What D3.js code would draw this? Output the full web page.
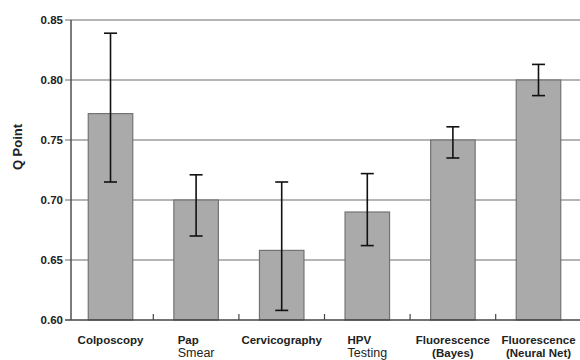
<!DOCTYPE html>
<html>
<head>
<meta charset="utf-8">
<script src="https://cdn.jsdelivr.net/npm/d3@7"></script>
<style>
  html, body { margin: 0; padding: 0; background: #fff; }
  svg { display: block; font-family: "Liberation Sans", Arial, Helvetica, sans-serif; }
</style>
</head>
<body>
<svg id="chart" width="580" height="360"></svg>
<script>
// Diagnostic methods compared by Q point, with error bar limits
const categories = ["Colposcopy", "Pap Smear", "Cervicography", "HPV Testing", "Fluorescence (Bayes)", "Fluorescence (Neural Net)"];
const labelLines = [["Colposcopy"], ["Pap", "Smear"], ["Cervicography"], ["HPV", "Testing"], ["Fluorescence", "(Bayes)"], ["Fluorescence", "(Neural Net)"]];
const qPoint = [0.772, 0.700, 0.658, 0.690, 0.750, 0.800];
const errLow = [0.715, 0.670, 0.608, 0.662, 0.735, 0.787];
const errHigh = [0.839, 0.721, 0.715, 0.722, 0.761, 0.813];
const yTicks = [0.60, 0.65, 0.70, 0.75, 0.80, 0.85];
const yTitle = "Q Point";

// two-line labels set flush left, with a lighter second line
const leftAligned = new Set(["Pap Smear", "HPV Testing"]);

const svg = d3.select("#chart");
const plotLeft = 71, plotRight = 580, plotTop = 20, plotBottom = 320;

const x = d3.scaleBand().domain(categories).range([66, 583]).paddingInner(0.48).paddingOuter(0.26);
const y = d3.scaleLinear().domain([0.60, 0.85]).range([plotBottom, plotTop]);

// horizontal gridlines, extending slightly left of the axis as tick marks
svg.append("g").selectAll("line").data(yTicks.slice(1)).join("line")
  .attr("x1", plotLeft - 6).attr("x2", plotRight)
  .attr("y1", d => y(d)).attr("y2", d => y(d))
  .attr("stroke", "#9c9c9c").attr("stroke-width", 1.3);

// bars
svg.append("g").selectAll("rect").data(categories).join("rect")
  .attr("x", d => x(d)).attr("width", x.bandwidth())
  .attr("y", (d, i) => y(qPoint[i]))
  .attr("height", (d, i) => y(0.60) - y(qPoint[i]))
  .attr("fill", "#aaaaaa").attr("stroke", "#737373").attr("stroke-width", 1.2);

// axis lines
svg.append("line").attr("x1", plotLeft).attr("x2", plotLeft).attr("y1", plotTop).attr("y2", plotBottom)
  .attr("stroke", "#444").attr("stroke-width", 1.4);
svg.append("line").attr("x1", plotLeft - 6).attr("x2", plotRight).attr("y1", plotBottom).attr("y2", plotBottom)
  .attr("stroke", "#444").attr("stroke-width", 1.6);

// small upward ticks between categories
const step = x.step();
const boundaries = categories.slice(1).map(d => x(d) - (step - x.bandwidth()) / 2);
svg.append("g").selectAll("line").data(boundaries).join("line")
  .attr("x1", d => d).attr("x2", d => d)
  .attr("y1", plotBottom).attr("y2", plotBottom - 6)
  .attr("stroke", "#444").attr("stroke-width", 1.2);

// error bars
const cap = 6.5;
const eb = svg.append("g").attr("stroke", "#111").attr("stroke-width", 1.6);
categories.forEach((c, i) => {
  const cx = x(c) + x.bandwidth() / 2;
  eb.append("line").attr("x1", cx).attr("x2", cx).attr("y1", y(errHigh[i])).attr("y2", y(errLow[i]));
  eb.append("line").attr("x1", cx - cap).attr("x2", cx + cap).attr("y1", y(errHigh[i])).attr("y2", y(errHigh[i]));
  eb.append("line").attr("x1", cx - cap).attr("x2", cx + cap).attr("y1", y(errLow[i])).attr("y2", y(errLow[i]));
});

// y tick labels
svg.append("g").selectAll("text").data(yTicks).join("text")
  .attr("x", 63).attr("y", d => y(d)).attr("dy", "0.35em")
  .attr("text-anchor", "end")
  .attr("font-size", 11.5).attr("font-weight", "bold").attr("fill", "#222")
  .text(d => d.toFixed(2));

// y axis title
svg.append("text")
  .attr("transform", "translate(22,147) rotate(-90)")
  .attr("text-anchor", "middle")
  .attr("font-size", 13).attr("font-weight", "bold").attr("fill", "#222")
  .text(yTitle);

// category labels
categories.forEach((c, i) => {
  const cx = x(c) + x.bandwidth() / 2;
  const lines = labelLines[i];
  const flush = leftAligned.has(c);
  const t = svg.append("text").attr("fill", "#222");
  const spans = lines.map((ln, j) => t.append("tspan")
    .attr("y", 344 + j * 13)
    .attr("font-size", flush && j > 0 ? 12.5 : 11.5)
    .attr("font-weight", flush && j > 0 ? "normal" : "bold")
    .text(ln));
  if (flush) {
    const w = d3.max(spans, s => s.node().getComputedTextLength());
    spans.forEach(s => s.attr("x", cx - w / 2).attr("text-anchor", "start"));
  } else {
    spans.forEach(s => s.attr("x", cx).attr("text-anchor", "middle"));
  }
});
</script>
</body>
</html>
